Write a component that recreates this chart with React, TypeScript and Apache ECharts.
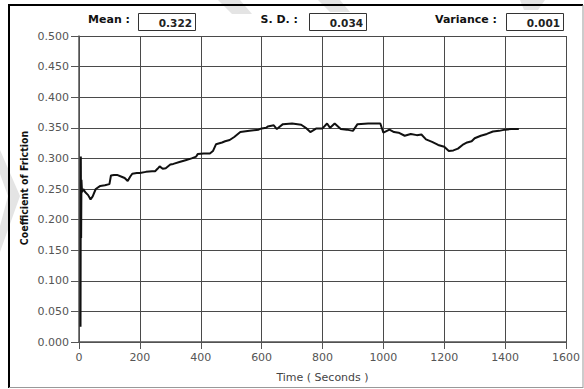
import React, { useEffect, useRef } from "react";
import * as echarts from "echarts";

const timeSec = [
  5, 6, 7, 8, 10, 14, 20, 30, 38, 45, 55, 70, 85, 100, 105, 115, 125, 140, 150, 160, 168, 175, 190, 200,
  220, 240, 250, 258, 265, 275, 285, 300, 310, 330, 350, 370, 385, 390, 410, 430, 440, 450, 470, 480,
  495, 510, 530, 560, 590, 600, 615, 620, 640, 650, 670, 700, 730, 745, 760, 780, 800, 815, 825, 840,
  860, 880, 900, 915, 950, 990, 1000, 1020, 1035, 1050, 1070, 1090, 1110, 1125, 1140, 1160, 1180, 1200,
  1215, 1230, 1245, 1260, 1275, 1290, 1300, 1320, 1340, 1360, 1380, 1400, 1420, 1445,
];
const friction = [
  0.025, 0.303, 0.17, 0.265, 0.245, 0.25, 0.245, 0.24, 0.233, 0.238, 0.25, 0.255, 0.256, 0.258, 0.272, 0.273, 0.273, 0.27, 0.268, 0.263, 0.27, 0.275, 0.276, 0.276,
  0.278, 0.279, 0.279, 0.283, 0.287, 0.283, 0.284, 0.29, 0.291, 0.294, 0.297, 0.3, 0.303, 0.307, 0.308, 0.308, 0.312, 0.323, 0.326, 0.328,
  0.33, 0.335, 0.343, 0.345, 0.347, 0.349, 0.35, 0.352, 0.354, 0.348, 0.356, 0.357, 0.355, 0.35, 0.343, 0.349, 0.349, 0.357, 0.35, 0.357,
  0.348, 0.347, 0.345, 0.356, 0.357, 0.357, 0.342, 0.347, 0.343, 0.342, 0.337, 0.34, 0.338, 0.339, 0.331, 0.327, 0.322, 0.319,
  0.312, 0.313, 0.316, 0.322, 0.326, 0.328, 0.333, 0.337, 0.34, 0.344, 0.345, 0.347, 0.348, 0.348,
];
const statLabels = ["Mean :", "S. D. :", "Variance :"];
const statValues = ["0.322", "0.034", "0.001"];

const labelX = [130, 298, 497];
const boxX = [138, 309, 506];
const boxW = 57;

export default function App() {
  const ref = useRef<HTMLDivElement>(null);
  useEffect(() => {
    if (!ref.current) return;
    const chart = echarts.init(ref.current, null, { renderer: "svg" });
    const data = timeSec.map((t, i) => [t, friction[i]]);
    const graphics: any[] = [
      { type: "polygon", silent: true, z: -10, shape: { points: [[0, 150], [20, 196], [0, 252], [0, 226], [8, 196], [0, 174]] }, style: { fill: "#e4e4e4" } },
      { type: "polygon", silent: true, z: -10, shape: { points: [[218, 0], [240, 0], [252, 14], [232, 14]] }, style: { fill: "#e4e4e4" } },
      { type: "polygon", silent: true, z: -10, shape: { points: [[318, 0], [340, 0], [350, 12], [330, 12]] }, style: { fill: "#e4e4e4" } },
      { type: "polygon", silent: true, z: -10, shape: { points: [[520, 0], [545, 0], [538, 10], [524, 10]] }, style: { fill: "#e4e4e4" } },
      { type: "line", shape: { x1: 8, y1: 5, x2: 583, y2: 5 }, style: { stroke: "#000", lineWidth: 2 } },
      { type: "line", shape: { x1: 9, y1: 4, x2: 9, y2: 388 }, style: { stroke: "#000", lineWidth: 2 } },
      { type: "line", shape: { x1: 583, y1: 5, x2: 583, y2: 388 }, style: { stroke: "#999", lineWidth: 1 } },
      { type: "line", shape: { x1: 9, y1: 387.5, x2: 583, y2: 387.5 }, style: { stroke: "#999", lineWidth: 1 } },
    ];
    statLabels.forEach((lab, i) => {
      graphics.push({
        type: "text",
        x: labelX[i],
        y: 19,
        style: { text: lab, fill: "#111", font: "bold 11px 'DejaVu Sans'", align: "right", verticalAlign: "middle" },
      });
      graphics.push({
        type: "rect",
        shape: { x: boxX[i] + 0.5, y: 13.5, width: boxW, height: 17 },
        style: { fill: "#fff", stroke: "#333", lineWidth: 1 },
      });
      graphics.push({
        type: "text",
        x: boxX[i] + boxW - 3,
        y: 22.5,
        style: { text: statValues[i], fill: "#222", font: "bold 10.5px 'DejaVu Sans'", align: "right", verticalAlign: "middle" },
      });
    });
    graphics.push({
      type: "text",
      x: 24,
      y: 188,
      rotation: Math.PI / 2,
      style: {
        text: "Coefficient of Friction",
        fill: "#111",
        font: "bold 10.5px 'DejaVu Sans Condensed'",
        align: "center",
        verticalAlign: "middle",
      },
    });
    chart.setOption({
      animation: false,
      backgroundColor: "#fff",
      grid: { left: 79, right: 18, top: 36, bottom: 47, containLabel: false },
      xAxis: {
        type: "value",
        min: 0,
        max: 1600,
        interval: 200,
        name: "Time ( Seconds )",
        nameLocation: "middle",
        nameGap: 30,
        nameTextStyle: { color: "#444", fontFamily: "DejaVu Sans", fontSize: 11 },
        axisLine: { show: true, lineStyle: { color: "#555", width: 1.5 } },
        axisTick: { show: true, length: 7, lineStyle: { color: "#555" } },
        axisLabel: { color: "#555", fontFamily: "DejaVu Sans", fontSize: 11, margin: 10, formatter: (v: number) => String(v) },
        splitLine: { show: true, lineStyle: { color: "#4a4a4a", width: 1 } },
      },
      yAxis: {
        type: "value",
        min: 0,
        max: 0.5,
        interval: 0.05,
        axisLine: { show: true, lineStyle: { color: "#555", width: 1.5 } },
        axisTick: { show: true, length: 8, lineStyle: { color: "#555" } },
        axisLabel: {
          color: "#555",
          fontFamily: "DejaVu Sans",
          fontSize: 11,
          margin: 10,
          formatter: (v: number) => v.toFixed(3),
        },
        splitLine: { show: true, lineStyle: { color: "#4a4a4a", width: 1 } },
      },
      series: [
        {
          type: "line",
          data,
          showSymbol: false,
          symbol: "none",
          lineStyle: { color: "#111", width: 2 },
          z: 5,
        },
      ],
      graphic: graphics,
    });
    return () => chart.dispose();
  }, []);
  return <div ref={ref} style={{ position: "absolute", left: 0, top: 0, width: 584, height: 389 }} />;
}
